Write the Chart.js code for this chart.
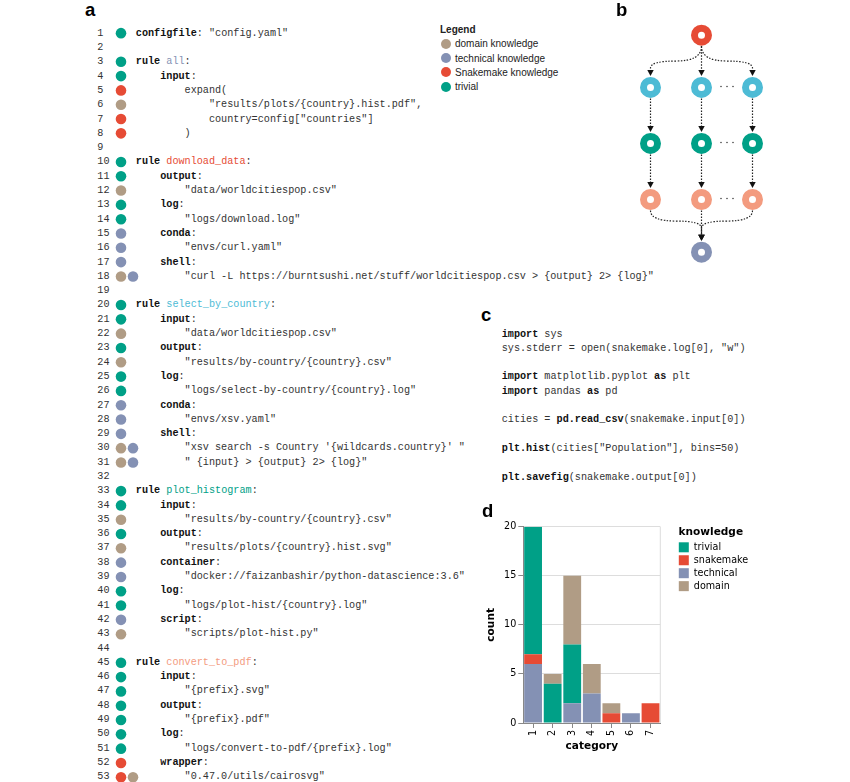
<!DOCTYPE html>
<html>
<head>
<meta charset="utf-8">
<script src="https://cdn.jsdelivr.net/npm/chart.js@4.4.1/dist/chart.umd.min.js"></script>
<style>
html, body { margin: 0; padding: 0; background: #fff; }
body { width: 850px; height: 782px; position: relative; overflow: hidden; font-family: "Liberation Sans", Arial, sans-serif; }
.lbl { position: absolute; font: bold 18.5px/19px "Liberation Sans", Arial, sans-serif; color: #000; z-index: 5; }
.code { position: absolute; font-family: "Liberation Mono", monospace; font-size: 10.17px; color: #333; }
.code div { height: 14.31px; line-height: 14.31px; white-space: pre; }
.code b { color: #111; }
.code .no { display: inline-block; width: 38.5px; }
.r-all { color: #8491B4; }
.r-dl { color: #E64B35; }
.r-sel { color: #4DBBD5; }
.r-plot { color: #00A087; }
.r-conv { color: #F39B7F; }
.box { position: absolute; }
#legB { position: absolute; left: 440px; top: 22.7px; font: 10px "Liberation Sans", Arial, sans-serif; color: #222; }
#legB div { height: 14.2px; display: flex; align-items: center; }
#legB i { display: inline-block; width: 10px; height: 10px; border-radius: 50%; margin: 0 4.3px 0 0.7px; }
</style>
</head>
<body>

<div class="lbl" style="left:85px;top:0px">a</div>
<div class="lbl" style="left:616px;top:0px">b</div>
<div class="lbl" style="left:481px;top:305px">c</div>
<div class="lbl" style="left:482px;top:501px">d</div>

<div id="codeA" class="code" style="left:97.3px;top:26.8px"></div>
<div id="codeC" class="code" style="left:501.7px;top:327.6px"></div>

<div id="legB">
  <div><b>Legend</b></div>
  <div><i style="background:#B09C85"></i>domain knowledge</div>
  <div><i style="background:#8491B4"></i>technical knowledge</div>
  <div><i style="background:#E64B35"></i>Snakemake knowledge</div>
  <div><i style="background:#00A087"></i>trivial</div>
</div>

<div class="box" style="left:115px;top:25.55px;width:24px;height:756px"><canvas id="dots"></canvas></div>
<div class="box" style="left:625.2px;top:8px;width:153px;height:271.25px"><canvas id="dag"></canvas></div>
<div class="box" style="left:480px;top:500px;width:280px;height:253px"><canvas id="bars"></canvas></div>

<script>
// knowledge colours
const kColors = {trivial: '#00A087', snakemake: '#E64B35', technical: '#8491B4', domain: '#B09C85'};

// panel a: Snakefile listing
const codeA = [
  `<b>configfile</b>: "config.yaml"`,
  ``,
  `<b>rule</b> <span class="r-all">all</span>:`,
  `    <b>input</b>:`,
  `        expand(`,
  `            "results/plots/{country}.hist.pdf",`,
  `            country=config["countries"]`,
  `        )`,
  ``,
  `<b>rule</b> <span class="r-dl">download_data</span>:`,
  `    <b>output</b>:`,
  `        "data/worldcitiespop.csv"`,
  `    <b>log</b>:`,
  `        "logs/download.log"`,
  `    <b>conda</b>:`,
  `        "envs/curl.yaml"`,
  `    <b>shell</b>:`,
  `        "curl -L https://burntsushi.net/stuff/worldcitiespop.csv &gt; {output} 2&gt; {log}"`,
  ``,
  `<b>rule</b> <span class="r-sel">select_by_country</span>:`,
  `    <b>input</b>:`,
  `        "data/worldcitiespop.csv"`,
  `    <b>output</b>:`,
  `        "results/by-country/{country}.csv"`,
  `    <b>log</b>:`,
  `        "logs/select-by-country/{country}.log"`,
  `    <b>conda</b>:`,
  `        "envs/xsv.yaml"`,
  `    <b>shell</b>:`,
  `        "xsv search -s Country '{wildcards.country}' "`,
  `        " {input} &gt; {output} 2&gt; {log}"`,
  ``,
  `<b>rule</b> <span class="r-plot">plot_histogram</span>:`,
  `    <b>input</b>:`,
  `        "results/by-country/{country}.csv"`,
  `    <b>output</b>:`,
  `        "results/plots/{country}.hist.svg"`,
  `    <b>container</b>:`,
  `        "docker://faizanbashir/python-datascience:3.6"`,
  `    <b>log</b>:`,
  `        "logs/plot-hist/{country}.log"`,
  `    <b>script</b>:`,
  `        "scripts/plot-hist.py"`,
  ``,
  `<b>rule</b> <span class="r-conv">convert_to_pdf</span>:`,
  `    <b>input</b>:`,
  `        "{prefix}.svg"`,
  `    <b>output</b>:`,
  `        "{prefix}.pdf"`,
  `    <b>log</b>:`,
  `        "logs/convert-to-pdf/{prefix}.log"`,
  `    <b>wrapper</b>:`,
  `        "0.47.0/utils/cairosvg"`
];

// panel c: script listing
const codeC = [
  `<b>import</b> sys`,
  `sys.stderr = open(snakemake.log[0], "w")`,
  ``,
  `<b>import</b> matplotlib.pyplot <b>as</b> plt`,
  `<b>import</b> pandas <b>as</b> pd`,
  ``,
  `cities = <b>pd.read_csv</b>(snakemake.input[0])`,
  ``,
  `<b>plt.hist</b>(cities["Population"], bins=50)`,
  ``,
  `<b>plt.savefig</b>(snakemake.output[0])`
];

// panel a: knowledge markers per code line (line 1..53)
const lineKnowledge = [
  ['trivial'], [], ['trivial'], ['trivial'], ['snakemake'], ['domain'], ['snakemake'], ['snakemake'], [],
  ['trivial'], ['trivial'], ['domain'], ['trivial'], ['trivial'], ['technical'], ['technical'], ['technical'],
  ['domain', 'technical'], [],
  ['trivial'], ['trivial'], ['domain'], ['trivial'], ['domain'], ['trivial'], ['trivial'], ['technical'],
  ['technical'], ['technical'], ['domain', 'technical'], ['domain', 'technical'], [],
  ['trivial'], ['trivial'], ['domain'], ['trivial'], ['domain'], ['technical'], ['technical'], ['trivial'],
  ['trivial'], ['technical'], ['domain'], [],
  ['trivial'], ['trivial'], ['trivial'], ['trivial'], ['trivial'], ['trivial'], ['trivial'], ['snakemake'],
  ['snakemake', 'domain']
];

// panel b: workflow DAG (rule per node, column, level)
const dagRuleColors = ['#E64B35', '#4DBBD5', '#00A087', '#F39B7F', '#8491B4'];
const dagLevelY = [0, 0.964, 1.996, 3.029, 4];
const dagCol  = [1, 0, 1, 2, 0, 1, 2, 0, 1, 2, 1];
const dagRow  = [0, 1, 1, 1, 2, 2, 2, 3, 3, 3, 4];
const dagRule = [0, 1, 1, 1, 2, 2, 2, 3, 3, 3, 4];
const dagEdges = [[0,1],[0,2],[0,3],[1,4],[2,5],[3,6],[4,7],[5,8],[6,9],[7,10],[8,10],[9,10]];
const dagEllipsisRows = [1, 2, 3];

// panel d: stacked histogram
const categories = ['1', '2', '3', '4', '5', '6', '7'];
const technical = [6, 0, 2, 3, 0, 1, 0];
const snakemake = [1, 0, 0, 0, 1, 0, 2];
const trivial   = [13, 4, 6, 0, 0, 0, 0];
const domain    = [0, 1, 7, 3, 1, 0, 0];
const legendOrder = ['trivial', 'snakemake', 'technical', 'domain'];

document.getElementById('codeA').innerHTML =
  codeA.map((l, i) => '<div><span class="no">' + (i + 1) + '</span>' + l + '</div>').join('');
document.getElementById('codeC').innerHTML =
  codeC.map(l => '<div>' + l + '</div>').join('');

const LINE_H = 14.31;

// ---- code line markers ----
const dotPts = [], dotCols = [];
lineKnowledge.forEach((ks, i) => {
  ks.forEach((k, j) => {
    dotPts.push({x: j + 1, y: i + 1});
    dotCols.push(kColors[k]);
  });
});

new Chart(document.getElementById('dots'), {
  type: 'scatter',
  data: {datasets: [{data: dotPts, pointRadius: 5.3, pointBorderWidth: 0,
    pointBackgroundColor: dotCols, clip: false}]},
  options: {
    responsive: true, maintainAspectRatio: false, animation: false, events: [],
    layout: {padding: 0, autoPadding: false},
    scales: {
      x: {type: 'linear', display: false, min: 0.5, max: 2.5},
      y: {type: 'linear', display: false, min: 0.5, max: 0.5 + 756 / LINE_H, reverse: true}
    },
    plugins: {legend: {display: false}, tooltip: {enabled: false}}
  }
});

// ---- DAG ----
const dagEdgesPlugin = {
  id: 'dagEdges',
  beforeDatasetsDraw(chart) {
    const c = chart.ctx, xs = chart.scales.x, ys = chart.scales.y;
    const R = 10.5;
    c.save();
    c.strokeStyle = '#222';
    c.fillStyle = '#111';
    c.lineWidth = 1.2;
    dagEdges.forEach(([s, t]) => {
      const sx = xs.getPixelForValue(dagCol[s]), sy = ys.getPixelForValue(dagLevelY[dagRow[s]]);
      const tx = xs.getPixelForValue(dagCol[t]), ty = ys.getPixelForValue(dagLevelY[dagRow[t]]);
      const y0 = sy + R + 0.5, tip = ty - R - 1, base = tip - 6;
      c.setLineDash([1.5, 1.5]);
      c.beginPath();
      c.moveTo(sx, y0);
      if (sx !== tx) {
        const ratio = dagRow[t] === 4 ? 0.35 : 0.5;
        const ym = y0 + (tip - y0) * ratio, yj = ym + 7, mx = (sx + tx) / 2;
        c.quadraticCurveTo(sx, ym, mx, ym);
        c.quadraticCurveTo(tx, ym, tx, yj);
      }
      c.lineTo(tx, base);
      c.stroke();
      c.setLineDash([]);
      c.beginPath();
      c.moveTo(tx, tip);
      c.lineTo(tx - 3.2, base);
      c.lineTo(tx + 3.2, base);
      c.closePath();
      c.fill();
    });
    c.fillStyle = '#444';
    dagEllipsisRows.forEach(r => {
      const mx = (xs.getPixelForValue(1) + xs.getPixelForValue(2)) / 2;
      const y = ys.getPixelForValue(dagLevelY[r]) - 1;
      [-6, 0, 6].forEach(d => { c.beginPath(); c.arc(mx + d, y, 0.8, 0, Math.PI * 2); c.fill(); });
    });
    c.restore();
  }
};

new Chart(document.getElementById('dag'), {
  type: 'scatter',
  data: {datasets: [{
    data: dagCol.map((x, i) => ({x: x, y: dagLevelY[dagRow[i]]})),
    pointRadius: 7, pointBorderWidth: 7, pointBackgroundColor: '#fff',
    pointBorderColor: dagRule.map(r => dagRuleColors[r]), clip: false
  }]},
  options: {
    responsive: true, maintainAspectRatio: false, animation: false, events: [],
    layout: {padding: 0, autoPadding: false},
    scales: {
      x: {type: 'linear', display: false, min: -0.5, max: 2.5},
      y: {type: 'linear', display: false, min: -0.5, max: 4.5, reverse: true}
    },
    plugins: {legend: {display: false}, tooltip: {enabled: false}}
  },
  plugins: [dagEdgesPlugin]
});

// ---- stacked bars ----
const tickFont = {family: 'DejaVu Sans', size: 9.6};
const titleFont = {family: 'DejaVu Sans', size: 10.56, weight: 'bold'};

const frameRight = {
  id: 'frameRight',
  beforeDatasetsDraw(chart) {
    const a = chart.chartArea, c = chart.ctx;
    c.save();
    c.strokeStyle = '#ddd';
    c.lineWidth = 1;
    c.beginPath();
    c.moveTo(a.right, a.top);
    c.lineTo(a.right, a.bottom);
    c.stroke();
    c.restore();
  }
};

// legend to the right of the plot, in the order of legendOrder
const knowledgeLegend = {
  id: 'knowledgeLegend',
  afterDraw(chart) {
    const a = chart.chartArea, c = chart.ctx;
    const x0 = a.right + 18.2;
    c.save();
    c.fillStyle = '#000';
    c.textBaseline = 'middle';
    c.textAlign = 'left';
    c.font = 'bold 10.56px "DejaVu Sans"';
    c.fillText('knowledge', x0, a.top + 5.6);
    c.font = '9.6px "DejaVu Sans"';
    legendOrder.forEach((name, i) => {
      const ds = chart.data.datasets.find(d => d.label === name);
      const top = a.top + 15.6 + i * 12.95;
      c.fillStyle = ds.backgroundColor;
      c.fillRect(x0 + 0.3, top, 10, 10);
      c.fillStyle = '#000';
      c.fillText(name, x0 + 15.3, top + 5.3);
    });
    c.restore();
  }
};

new Chart(document.getElementById('bars'), {
  type: 'bar',
  data: {
    labels: categories,
    datasets: [
      {label: 'technical', data: technical, backgroundColor: kColors.technical},
      {label: 'snakemake', data: snakemake, backgroundColor: kColors.snakemake},
      {label: 'trivial', data: trivial, backgroundColor: kColors.trivial},
      {label: 'domain', data: domain, backgroundColor: kColors.domain}
    ]
  },
  options: {
    responsive: true, maintainAspectRatio: false, animation: false, events: [],
    layout: {padding: {top: 26.7, left: 0, right: 99.7, bottom: 0}},
    datasets: {bar: {categoryPercentage: 1, barPercentage: 0.91, borderWidth: 0}},
    scales: {
      x: {
        stacked: true,
        grid: {display: true, drawOnChartArea: false, drawTicks: true, tickLength: 5,
          color: '#888', tickColor: '#888', offset: false},
        border: {display: true, color: '#888'},
        ticks: {autoSkip: false, maxRotation: 90, minRotation: 90, padding: 2, color: '#000', font: tickFont},
        title: {display: true, text: 'category', color: '#000', font: titleFont, padding: {top: 4, bottom: 0}},
        afterFit(s) { s.height = 30; }
      },
      y: {
        stacked: true, min: 0, max: 20,
        ticks: {stepSize: 5, padding: 2, color: '#000', font: tickFont},
        grid: {color: '#ddd', tickColor: '#888', tickLength: 5},
        border: {color: '#888'},
        title: {display: true, text: 'count', color: '#000', font: titleFont, padding: {top: 5.4, bottom: 0}},
        afterFit(s) { s.width = 43.3; }
      }
    },
    plugins: {legend: {display: false}, tooltip: {enabled: false}}
  },
  plugins: [frameRight, knowledgeLegend]
});
</script>
</body>
</html>
